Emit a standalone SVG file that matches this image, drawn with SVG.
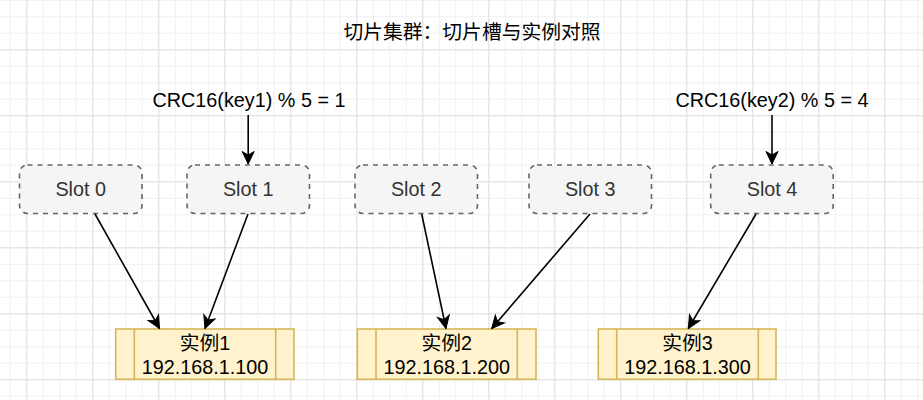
<svg xmlns="http://www.w3.org/2000/svg" width="923" height="400" viewBox="0 0 923 400">
<defs>
<pattern id="minor" x="26.3" y="49.3" width="16.5" height="16.5" patternUnits="userSpaceOnUse">
<path d="M0 0.5H16.5M0.5 0V16.5" stroke="#f0f0f0" stroke-width="1" fill="none"/>
</pattern>
<pattern id="major" x="26.3" y="49.3" width="66" height="66" patternUnits="userSpaceOnUse">
<path d="M0 0.5H66M0.5 0V66" stroke="#e0e0e0" stroke-width="1" fill="none"/>
</pattern>
<marker id="arr" markerUnits="userSpaceOnUse" markerWidth="16" markerHeight="16" viewBox="-14 -8 16 16" refX="0" refY="0" orient="auto">
<path d="M0 0L-12.5 -6L-9 0L-12.5 6Z" fill="#000" stroke="#000" stroke-width="1"/>
</marker>
<style>
.t{font-family:"Liberation Sans","Noto Sans CJK SC",Arial,sans-serif;font-size:19.8px;text-anchor:middle;dominant-baseline:central}
.slot rect{fill:#f5f5f5;stroke:#666;stroke-width:1.6;stroke-dasharray:5 5}
.slot text{fill:#333}
.inst rect,.inst path{fill:#fff2cc;stroke:#d6b656;stroke-width:1.6}
.inst text{fill:#000}
.c line{stroke:#000;stroke-width:1.6;marker-end:url(#arr)}
</style>
</defs>
<rect width="923" height="400" fill="#fff"/>
<rect width="923" height="400" fill="url(#minor)"/>
<rect width="923" height="400" fill="url(#major)"/>

<g id="title"><text class="t" x="472" y="32" fill="#000">切片集群：切片槽与实例对照</text></g>
<g id="crc1"><text class="t" x="249" y="100" fill="#000">CRC16(key1) % 5 = 1</text></g>
<g id="crc2"><text class="t" x="772" y="100" fill="#000">CRC16(key2) % 5 = 4</text></g>

<g id="slot0" class="slot"><rect x="19.5" y="165" width="122.5" height="48.5" rx="8"/><text class="t" x="80.7" y="189.3">Slot 0</text></g>
<g id="slot1" class="slot"><rect x="187" y="165" width="122.5" height="48.5" rx="8"/><text class="t" x="248.2" y="189.3">Slot 1</text></g>
<g id="slot2" class="slot"><rect x="355" y="165" width="122.5" height="48.5" rx="8"/><text class="t" x="416.2" y="189.3">Slot 2</text></g>
<g id="slot3" class="slot"><rect x="529" y="165" width="122.5" height="48.5" rx="8"/><text class="t" x="590.2" y="189.3">Slot 3</text></g>
<g id="slot4" class="slot"><rect x="710.7" y="165" width="122.5" height="48.5" rx="8"/><text class="t" x="772" y="189.3">Slot 4</text></g>

<g id="inst1" class="inst"><rect x="115.7" y="329" width="178.3" height="50.3"/><path d="M134.3 329V379.3M275.7 329V379.3"/><text class="t" x="205" y="343">实例1</text><text class="t" x="205" y="367">192.168.1.100</text></g>
<g id="inst2" class="inst"><rect x="357.3" y="329" width="178.7" height="50.3"/><path d="M376 329V379.3M517.3 329V379.3"/><text class="t" x="446.7" y="343">实例2</text><text class="t" x="446.7" y="367">192.168.1.200</text></g>
<g id="inst3" class="inst"><rect x="598.3" y="329" width="177.7" height="50.3"/><path d="M616.7 329V379.3M758.3 329V379.3"/><text class="t" x="687.5" y="343">实例3</text><text class="t" x="687.5" y="367">192.168.1.300</text></g>

<g id="connectors" class="c">
<line x1="248.2" y1="115" x2="248.2" y2="164"/>
<line x1="772" y1="115" x2="772" y2="164"/>
<line x1="95" y1="214" x2="159.5" y2="328.5"/>
<line x1="248" y1="214" x2="205" y2="328.5"/>
<line x1="421.7" y1="214" x2="446" y2="328.5"/>
<line x1="590" y1="214" x2="491.7" y2="328.5"/>
<line x1="756" y1="214" x2="688.3" y2="328.5"/>
</g>
</svg>
